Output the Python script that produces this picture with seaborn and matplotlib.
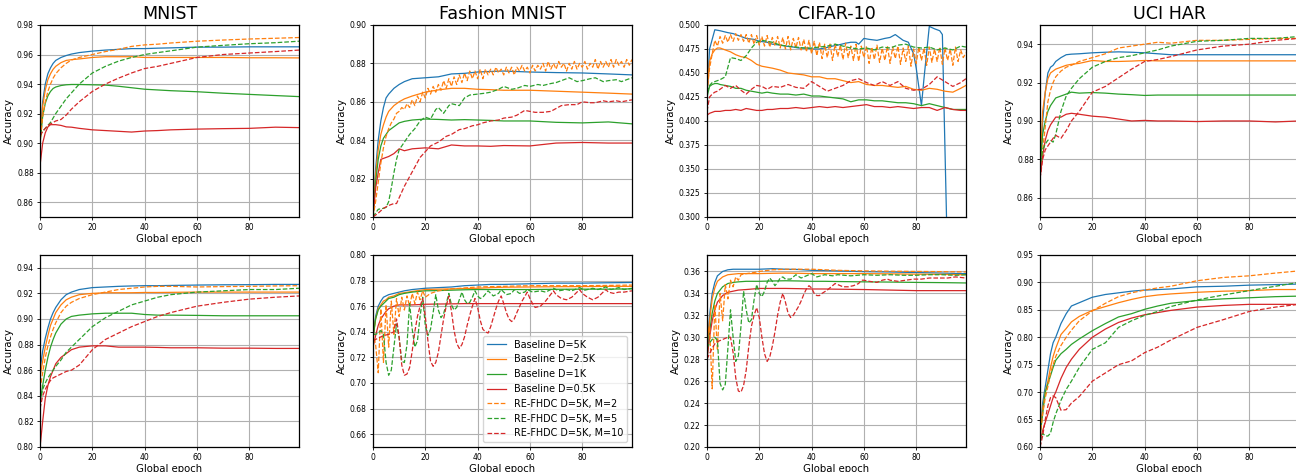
import matplotlib
matplotlib.use("Agg")
import matplotlib.pyplot as plt
import seaborn as sns
from matplotlib.ticker import MultipleLocator

# shared epoch grid for the smooth curves
ep = [0, 1, 2, 3, 4, 5, 6, 8, 10, 12, 15, 20, 25, 30, 35, 40, 45, 50, 60, 70, 80, 90, 99]

# ---------------- MNIST, top row ----------------
mn1_b5k = [0.905, 0.928, 0.940, 0.947, 0.951, 0.954, 0.956, 0.958, 0.9593, 0.9603, 0.9613, 0.9623,
           0.963, 0.9635, 0.964, 0.964, 0.9643, 0.9645, 0.965, 0.965, 0.9652, 0.9652, 0.9652]
mn1_b25k = [0.900, 0.925, 0.936, 0.943, 0.947, 0.950, 0.952, 0.9545, 0.956, 0.9565, 0.957, 0.958,
            0.9585, 0.9585, 0.9585, 0.958, 0.958, 0.958, 0.958, 0.958, 0.9578, 0.9578, 0.9577]
mn1_b1k = [0.900, 0.918, 0.927, 0.932, 0.935, 0.937, 0.938, 0.939, 0.9395, 0.9397, 0.9397, 0.9395,
           0.9393, 0.9385, 0.9375, 0.9365, 0.936, 0.9355, 0.9348, 0.9338, 0.933, 0.9322, 0.9315]
mn1_b05k = [0.885, 0.900, 0.907, 0.911, 0.9125, 0.9125, 0.9125, 0.912, 0.911, 0.9108, 0.910, 0.909,
            0.9085, 0.908, 0.9075, 0.9082, 0.9085, 0.909, 0.9095, 0.9098, 0.910, 0.9108, 0.9105]
mn1_m2 = [0.900, 0.918, 0.928, 0.935, 0.940, 0.944, 0.947, 0.951, 0.954, 0.9563, 0.958, 0.960,
          0.962, 0.9635, 0.9655, 0.9665, 0.967, 0.9678, 0.969, 0.9698, 0.9705, 0.971, 0.9715]
mn1_m5 = [0.905, 0.908, 0.910, 0.912, 0.914, 0.917, 0.920, 0.925, 0.930, 0.934, 0.940, 0.9475,
          0.952, 0.9555, 0.958, 0.960, 0.9613, 0.9625, 0.965, 0.9662, 0.9673, 0.968, 0.969]
mn1_m10 = [0.905, 0.908, 0.910, 0.912, 0.913, 0.914, 0.915, 0.916, 0.919, 0.923, 0.928, 0.935,
           0.940, 0.944, 0.9475, 0.9505, 0.952, 0.954, 0.958, 0.960, 0.961, 0.962, 0.963]

# ---------------- Fashion MNIST, top row ----------------
fm1_b5k = [0.800, 0.825, 0.840, 0.850, 0.857, 0.862, 0.864, 0.867, 0.869, 0.8705, 0.872, 0.8725,
           0.873, 0.8745, 0.8748, 0.8755, 0.8758, 0.876, 0.8755, 0.8752, 0.875, 0.8745, 0.874]
fm1_b25k = [0.800, 0.822, 0.835, 0.843, 0.848, 0.852, 0.855, 0.858, 0.860, 0.8615, 0.863, 0.865,
            0.8662, 0.867, 0.867, 0.8665, 0.8663, 0.866, 0.866, 0.8655, 0.865, 0.8645, 0.864]
fm1_b1k = [0.800, 0.818, 0.830, 0.837, 0.841, 0.843, 0.845, 0.847, 0.849, 0.8498, 0.8505, 0.851,
           0.8508, 0.8505, 0.8507, 0.8505, 0.8503, 0.850, 0.850, 0.8493, 0.849, 0.8495, 0.8485]
fm1_b05k = [0.800, 0.815, 0.823, 0.830, 0.8305, 0.831, 0.8315, 0.833, 0.8355, 0.8345, 0.8355, 0.836,
            0.8355, 0.8375, 0.837, 0.837, 0.8368, 0.8372, 0.837, 0.8385, 0.8388, 0.8385, 0.8385]
fm1_m2_ep = list(range(100))
fm1_m2 = [0.800, 0.808, 0.818, 0.828, 0.836, 0.842, 0.846, 0.849, 0.851, 0.854,
          0.855, 0.857, 0.856, 0.859, 0.857, 0.861, 0.858, 0.863, 0.860, 0.865,
          0.862, 0.867, 0.864, 0.868, 0.865, 0.869, 0.866, 0.871, 0.867, 0.872,
          0.868, 0.873, 0.869, 0.874, 0.870, 0.875, 0.871, 0.876, 0.872, 0.876,
          0.872, 0.877, 0.872, 0.877, 0.874, 0.877, 0.874, 0.878, 0.875, 0.877,
          0.874, 0.878, 0.875, 0.878, 0.874, 0.878, 0.876, 0.879, 0.876, 0.878,
          0.875, 0.879, 0.876, 0.879, 0.877, 0.880, 0.876, 0.881, 0.877, 0.880,
          0.877, 0.881, 0.878, 0.880, 0.876, 0.880, 0.877, 0.881, 0.877, 0.880,
          0.878, 0.881, 0.877, 0.880, 0.878, 0.882, 0.877, 0.881, 0.878, 0.881,
          0.878, 0.882, 0.878, 0.882, 0.879, 0.881, 0.878, 0.882, 0.879, 0.882]
fm1_m5_ep = [0, 2, 4, 5, 6, 7, 8, 9, 10,
             12, 14, 16, 18, 20,
             22, 24, 25, 27, 29, 30,
             33, 35, 37, 40, 43, 45, 48, 50, 53, 55, 58, 60, 63, 65, 68, 70,
             73, 75, 78, 80, 83, 85, 88, 90, 93, 95, 97, 99]
fm1_m5 = [0.800, 0.804, 0.8045, 0.805, 0.808, 0.815, 0.823, 0.830, 0.835,
          0.839, 0.843, 0.846, 0.850, 0.852,
          0.851, 0.856, 0.857, 0.854, 0.858, 0.859,
          0.858, 0.862, 0.8635, 0.864, 0.8645, 0.865, 0.8665, 0.868, 0.8665, 0.867, 0.8685, 0.868,
          0.869, 0.8685, 0.8695, 0.870,
          0.8715, 0.8725, 0.8705, 0.871, 0.872, 0.8725, 0.8705, 0.871, 0.8715, 0.8705, 0.8715, 0.8725]
fm1_m10_ep = [0, 2, 4, 6, 8, 9, 10, 12, 14, 16, 18, 20, 22, 25, 28, 30, 33, 35, 38, 40,
              42, 45, 48, 50, 53, 55, 58, 60, 62, 65, 68, 70, 72, 75, 78, 80, 83, 85, 88, 90,
              93, 95, 97, 99]
fm1_m10 = [0.800, 0.802, 0.8045, 0.806, 0.807, 0.807, 0.810, 0.816, 0.821, 0.826, 0.831, 0.834,
           0.837, 0.839, 0.842, 0.843, 0.8455, 0.846, 0.8475, 0.848,
           0.849, 0.850, 0.8505, 0.8515, 0.852, 0.853, 0.8555, 0.855, 0.8545, 0.8545, 0.855, 0.8565,
           0.858, 0.8585, 0.8585, 0.860, 0.8595, 0.8595, 0.8605, 0.860,
           0.8605, 0.860, 0.8605, 0.861]

# ---------------- CIFAR-10, top row ----------------
cf1_ep = [0, 1, 2, 3, 4, 5, 7, 9, 11, 13, 15, 17, 19, 21, 23, 25, 28, 31, 34, 37, 40,
          43, 46, 49, 52, 55, 58, 61, 64, 67, 70, 73, 76, 79, 82, 85, 88, 91, 94, 97, 99]
cf1_b5k_ep = [0, 1, 3, 5, 8, 10, 12, 15, 18, 20,
              23, 25, 28, 30, 33, 35, 38, 40,
              43, 45, 48, 50, 53, 55, 57, 58,
              60, 62, 65, 68, 70, 72, 74, 75,
              77, 79, 80, 82, 83, 85, 87, 89, 90, 92]
cf1_b5k = [0.425, 0.475, 0.495, 0.494, 0.492, 0.491, 0.489, 0.486, 0.485, 0.483,
           0.482, 0.480, 0.479, 0.478, 0.477, 0.476, 0.476, 0.475,
           0.475, 0.476, 0.478, 0.479, 0.481, 0.482, 0.482, 0.480,
           0.486, 0.485, 0.484, 0.486, 0.487, 0.490, 0.486, 0.484,
           0.482, 0.470, 0.455, 0.416, 0.445, 0.4985, 0.496, 0.494, 0.490, 0.250]
cf1_b25k = [0.430, 0.462, 0.470, 0.474, 0.476, 0.476, 0.474, 0.472, 0.469, 0.467, 0.466, 0.463,
            0.459, 0.457, 0.456, 0.455, 0.453, 0.450, 0.449, 0.448, 0.446, 0.446, 0.444, 0.444,
            0.442, 0.440, 0.441, 0.438, 0.437, 0.437, 0.436, 0.435, 0.436, 0.433, 0.432, 0.434,
            0.433, 0.431, 0.430, 0.434, 0.437]
cf1_b1k = [0.425, 0.436, 0.438, 0.439, 0.439, 0.438, 0.437, 0.436, 0.434, 0.434, 0.432, 0.431,
           0.430, 0.429, 0.430, 0.429, 0.428, 0.428, 0.427, 0.428, 0.426, 0.426, 0.425, 0.424,
           0.423, 0.420, 0.422, 0.422, 0.421, 0.421, 0.420, 0.419, 0.419, 0.418, 0.416, 0.418,
           0.416, 0.414, 0.412, 0.412, 0.412]
cf1_b05k = [0.406, 0.408, 0.409, 0.410, 0.410, 0.410, 0.411, 0.411, 0.412, 0.411, 0.413, 0.412,
            0.411, 0.411, 0.412, 0.412, 0.413, 0.413, 0.414, 0.413, 0.414, 0.415, 0.414, 0.415,
            0.414, 0.415, 0.416, 0.417, 0.415, 0.415, 0.414, 0.415, 0.414, 0.413, 0.414, 0.414,
            0.411, 0.414, 0.412, 0.411, 0.411]
cf1_m2_ep = list(range(100))
cf1_m2 = [0.430, 0.455, 0.470, 0.484, 0.478, 0.488, 0.481, 0.489, 0.482, 0.490,
          0.483, 0.491, 0.484, 0.490, 0.483, 0.490, 0.481, 0.490, 0.480, 0.489,
          0.479, 0.488, 0.478, 0.489, 0.477, 0.487, 0.478, 0.488, 0.476, 0.487,
          0.475, 0.488, 0.474, 0.486, 0.476, 0.487, 0.474, 0.485, 0.472, 0.484,
          0.470, 0.483, 0.468, 0.482, 0.465, 0.480, 0.466, 0.481, 0.463, 0.480,
          0.467, 0.479, 0.464, 0.481, 0.466, 0.478, 0.463, 0.480, 0.462, 0.478,
          0.466, 0.478, 0.460, 0.477, 0.464, 0.479, 0.461, 0.476, 0.463, 0.478,
          0.460, 0.477, 0.465, 0.478, 0.459, 0.476, 0.462, 0.478, 0.457, 0.475,
          0.460, 0.477, 0.463, 0.476, 0.458, 0.477, 0.461, 0.475, 0.462, 0.477,
          0.459, 0.476, 0.463, 0.475, 0.458, 0.477, 0.462, 0.474, 0.466, 0.471]
cf1_m5 = [0.430, 0.437, 0.440, 0.441, 0.442, 0.443, 0.446, 0.466, 0.465, 0.463, 0.468, 0.476,
          0.482, 0.484, 0.483, 0.482, 0.479, 0.478, 0.477, 0.476, 0.476, 0.477, 0.478, 0.480,
          0.478, 0.476, 0.475, 0.476, 0.474, 0.477, 0.476, 0.479, 0.480, 0.477, 0.476, 0.477,
          0.474, 0.476, 0.474, 0.478, 0.477]
cf1_m10 = [0.410, 0.425, 0.428, 0.430, 0.431, 0.433, 0.437, 0.434, 0.437, 0.432, 0.428, 0.433,
           0.437, 0.436, 0.433, 0.436, 0.435, 0.438, 0.435, 0.434, 0.441, 0.436, 0.431, 0.434,
           0.437, 0.442, 0.444, 0.440, 0.437, 0.441, 0.437, 0.441, 0.434, 0.432, 0.433, 0.438,
           0.446, 0.441, 0.436, 0.440, 0.444]

# ---------------- UCI HAR, top row ----------------
uc1_b5k = [0.870, 0.900, 0.915, 0.925, 0.928, 0.929, 0.931, 0.933, 0.9345, 0.9348, 0.935, 0.9355,
           0.9358, 0.936, 0.9358, 0.9355, 0.935, 0.9345, 0.9345, 0.9345, 0.9345, 0.9345, 0.9345]
uc1_b25k = [0.875, 0.905, 0.915, 0.922, 0.925, 0.926, 0.927, 0.928, 0.929, 0.9295, 0.930, 0.9315,
            0.931, 0.931, 0.9312, 0.9315, 0.9313, 0.9313, 0.9313, 0.9313, 0.9313, 0.9313, 0.9313]
uc1_b1k = [0.875, 0.893, 0.900, 0.905, 0.908, 0.910, 0.912, 0.913, 0.914, 0.915, 0.9145, 0.9148,
           0.9145, 0.914, 0.9137, 0.9133, 0.9135, 0.9135, 0.9135, 0.9135, 0.9135, 0.9135, 0.9135]
uc1_b05k = [0.870, 0.882, 0.890, 0.895, 0.898, 0.900, 0.902, 0.902, 0.9035, 0.904, 0.9035, 0.9025,
            0.902, 0.901, 0.900, 0.9003, 0.900, 0.900, 0.8997, 0.900, 0.900, 0.8995, 0.900]
uc1_m2 = [0.875, 0.885, 0.897, 0.910, 0.916, 0.920, 0.923, 0.926, 0.928, 0.929, 0.931, 0.933,
          0.935, 0.938, 0.939, 0.940, 0.941, 0.9405, 0.942, 0.942, 0.9425, 0.943, 0.943]
uc1_m5 = [0.875, 0.885, 0.888, 0.890, 0.890, 0.889, 0.893, 0.905, 0.913, 0.917, 0.922, 0.928,
          0.931, 0.933, 0.934, 0.9355, 0.937, 0.939, 0.9415, 0.942, 0.943, 0.943, 0.944]
uc1_m10 = [0.870, 0.880, 0.885, 0.887, 0.889, 0.891, 0.8925, 0.891, 0.895, 0.900, 0.905, 0.915,
           0.918, 0.9225, 0.927, 0.931, 0.932, 0.9335, 0.937, 0.939, 0.940, 0.942, 0.943]

# ---------------- MNIST, bottom row ----------------
mn2_b5k = [0.860, 0.875, 0.885, 0.893, 0.900, 0.905, 0.909, 0.915, 0.919, 0.921, 0.923, 0.9245,
           0.925, 0.9255, 0.9258, 0.926, 0.926, 0.9262, 0.9265, 0.9267, 0.9268, 0.927, 0.927]
mn2_b25k = [0.855, 0.867, 0.878, 0.887, 0.895, 0.900, 0.905, 0.911, 0.915, 0.917, 0.919, 0.920,
            0.9205, 0.9205, 0.9205, 0.9207, 0.9207, 0.9208, 0.921, 0.921, 0.921, 0.921, 0.921]
mn2_b1k = [0.835, 0.848, 0.860, 0.870, 0.878, 0.884, 0.889, 0.896, 0.900, 0.902, 0.903, 0.904,
           0.9045, 0.9045, 0.9045, 0.9035, 0.903, 0.903, 0.9028, 0.9025, 0.9025, 0.9025, 0.9025]
mn2_b05k = [0.800, 0.820, 0.838, 0.848, 0.855, 0.860, 0.865, 0.870, 0.873, 0.876, 0.878, 0.879,
            0.879, 0.878, 0.878, 0.878, 0.8778, 0.8775, 0.8775, 0.8772, 0.8772, 0.877, 0.877]
mn2_m2 = [0.845, 0.858, 0.870, 0.879, 0.886, 0.892, 0.897, 0.905, 0.910, 0.913, 0.916, 0.919,
          0.921, 0.923, 0.924, 0.925, 0.9255, 0.9255, 0.925, 0.9253, 0.9255, 0.9258, 0.926]
mn2_m5 = [0.835, 0.845, 0.850, 0.854, 0.857, 0.860, 0.863, 0.868, 0.874, 0.878, 0.884, 0.894,
          0.901, 0.906, 0.911, 0.914, 0.917, 0.919, 0.921, 0.922, 0.923, 0.923, 0.924]
mn2_m10 = [0.830, 0.840, 0.845, 0.849, 0.852, 0.854, 0.855, 0.857, 0.859, 0.860, 0.864, 0.876,
           0.884, 0.889, 0.894, 0.898, 0.902, 0.905, 0.910, 0.913, 0.9155, 0.917, 0.918]

# ---------------- Fashion MNIST, bottom row ----------------
fm2_b5k = [0.735, 0.752, 0.760, 0.764, 0.767, 0.768, 0.769, 0.770, 0.771, 0.772, 0.773, 0.774,
           0.7745, 0.775, 0.776, 0.7765, 0.777, 0.777, 0.7775, 0.778, 0.778, 0.7783, 0.7785]
fm2_b25k = [0.735, 0.750, 0.758, 0.761, 0.764, 0.765, 0.767, 0.768, 0.770, 0.7705, 0.7715, 0.773,
            0.7733, 0.7735, 0.7738, 0.774, 0.7745, 0.7748, 0.775, 0.7752, 0.7753, 0.7755, 0.7755]
fm2_b1k = [0.735, 0.750, 0.757, 0.760, 0.762, 0.764, 0.766, 0.767, 0.769, 0.770, 0.771, 0.772,
           0.7722, 0.7725, 0.7728, 0.773, 0.773, 0.773, 0.773, 0.7732, 0.7733, 0.7733, 0.7735]
fm2_b05k = [0.728, 0.737, 0.745, 0.750, 0.753, 0.756, 0.758, 0.760, 0.761, 0.761, 0.761, 0.7615,
            0.7617, 0.7618, 0.762, 0.762, 0.762, 0.762, 0.762, 0.762, 0.762, 0.762, 0.762]
fm2_m2_ep = [0, 1, 2, 3, 4, 5, 6, 7, 8, 9,
             10, 11, 12, 13, 14, 15, 16, 17, 18, 19,
             20, 22, 25, 30, 40, 50, 60, 70, 80, 90, 99]
fm2_m2 = [0.740, 0.730, 0.708, 0.758, 0.716, 0.761, 0.728, 0.764, 0.738, 0.766,
          0.752, 0.767, 0.757, 0.768, 0.760, 0.770, 0.762, 0.771, 0.765, 0.772,
          0.767, 0.770, 0.772, 0.7735, 0.775, 0.7755, 0.776, 0.776, 0.776, 0.7762, 0.7765]
fm2_m5_ep = [0, 1, 2, 3, 4, 5, 6, 7, 8, 9,
             10, 11, 12, 13, 14, 15, 16, 17, 18, 19,
             20, 21, 22, 23, 24, 25, 26, 27, 28, 29,
             30, 31, 32, 33, 34, 35, 36, 37, 38, 39,
             40, 41, 42, 44, 46, 48, 49, 51, 53, 54,
             56, 58, 59, 61, 64, 66, 69, 71, 74, 76,
             79, 81, 84, 86, 89, 91, 94, 96, 99]
fm2_m5 = [0.738, 0.738, 0.739, 0.741, 0.738, 0.716, 0.706, 0.710, 0.728, 0.746,
          0.735, 0.717, 0.716, 0.730, 0.762, 0.742, 0.728, 0.733, 0.752, 0.767,
          0.745, 0.737, 0.742, 0.755, 0.769, 0.757, 0.751, 0.754, 0.762, 0.770,
          0.761, 0.757, 0.759, 0.765, 0.771, 0.765, 0.762, 0.763, 0.767, 0.772,
          0.768, 0.766, 0.767, 0.772, 0.768, 0.770, 0.773, 0.769, 0.770, 0.773,
          0.770, 0.771, 0.773, 0.771, 0.772, 0.771, 0.774, 0.772, 0.773, 0.772,
          0.7745, 0.7725, 0.774, 0.773, 0.775, 0.773, 0.7745, 0.773, 0.774]
fm2_m10_ep = [0, 2, 4, 6, 8, 9, 10, 11, 12, 13,
              14, 15, 16, 17, 18, 19, 20, 21, 22, 23,
              24, 25, 26, 27, 28, 29, 30, 31, 32, 33,
              34, 35, 36, 37, 38, 39, 40, 41, 42, 43,
              44, 45, 46, 47, 48, 49, 50, 51, 52, 53,
              54, 55, 57, 59, 60, 61, 62, 64, 66, 69,
              70, 72, 74, 76, 79, 80, 82, 84, 86, 89,
              90, 92, 94, 96, 99]
fm2_m10 = [0.733, 0.735, 0.737, 0.738, 0.740, 0.750, 0.736, 0.714, 0.706, 0.707,
           0.712, 0.725, 0.740, 0.752, 0.760, 0.766, 0.752, 0.733, 0.717, 0.713,
           0.716, 0.724, 0.737, 0.750, 0.760, 0.768, 0.756, 0.741, 0.731, 0.727,
           0.730, 0.736, 0.745, 0.753, 0.760, 0.766, 0.759, 0.749, 0.742, 0.740,
           0.739, 0.744, 0.751, 0.758, 0.764, 0.768, 0.762, 0.755, 0.750, 0.748,
           0.750, 0.755, 0.764, 0.771, 0.766, 0.762, 0.759, 0.760, 0.764, 0.772,
           0.769, 0.766, 0.765, 0.767, 0.773, 0.770, 0.767, 0.765, 0.767, 0.773,
           0.771, 0.770, 0.771, 0.771, 0.772]

# ---------------- CIFAR-10, bottom row ----------------
cf2_b5k = [0.290, 0.320, 0.340, 0.350, 0.356, 0.358, 0.360, 0.3615, 0.362, 0.362, 0.362, 0.362,
           0.3625, 0.362, 0.3618, 0.361, 0.3608, 0.3605, 0.3598, 0.3595, 0.359, 0.3585, 0.358]
cf2_b25k = [0.290, 0.315, 0.335, 0.345, 0.351, 0.353, 0.355, 0.357, 0.3575, 0.358, 0.358, 0.358,
            0.3583, 0.3585, 0.3583, 0.358, 0.358, 0.358, 0.358, 0.3578, 0.3575, 0.3573, 0.357]
cf2_b1k = [0.280, 0.305, 0.322, 0.333, 0.340, 0.343, 0.346, 0.349, 0.350, 0.3505, 0.351, 0.351,
           0.3513, 0.3515, 0.3513, 0.351, 0.351, 0.3508, 0.3505, 0.3503, 0.350, 0.3498, 0.3495]
cf2_b05k = [0.280, 0.300, 0.315, 0.325, 0.332, 0.335, 0.338, 0.341, 0.342, 0.343, 0.3435, 0.3445,
            0.3445, 0.3445, 0.3443, 0.344, 0.344, 0.3438, 0.3435, 0.343, 0.3425, 0.3425, 0.3425]
cf2_m2_ep = [0, 1, 2, 3, 4, 5, 6, 7, 8, 9, 10, 11, 12, 13,
             15, 18, 20, 25, 30, 40, 50, 60, 70, 80, 90, 99]
cf2_m2 = [0.300, 0.310, 0.253, 0.330, 0.288, 0.340, 0.315, 0.348, 0.335, 0.352, 0.346, 0.355, 0.352, 0.357,
          0.358, 0.359, 0.360, 0.3615, 0.362, 0.362, 0.361, 0.3605, 0.3602, 0.360, 0.3598, 0.3595]
cf2_m5_ep = [0, 1, 2, 3, 4, 5, 6, 7, 8, 9,
             10, 11, 12, 13, 14, 15, 16, 17, 18, 19,
             20, 21, 22, 23, 24, 25, 26, 27, 28, 29,
             30, 32, 34, 36, 38, 40, 42, 45, 48, 50,
             55, 60, 65, 70, 75, 80, 85, 90, 95, 99]
cf2_m5 = [0.290, 0.295, 0.298, 0.300, 0.297, 0.258, 0.252, 0.257, 0.290, 0.325,
          0.300, 0.278, 0.283, 0.310, 0.342, 0.325, 0.313, 0.316, 0.334, 0.348,
          0.340, 0.337, 0.342, 0.350, 0.354, 0.351, 0.347, 0.350, 0.354, 0.355,
          0.353, 0.353, 0.357, 0.354, 0.356, 0.358, 0.355, 0.357, 0.356, 0.357,
          0.356, 0.357, 0.3565, 0.357, 0.3565, 0.3565, 0.357, 0.357, 0.3565, 0.357]
cf2_m10_ep = [0, 1, 2, 3, 4, 6, 8, 9, 10, 11,
              12, 13, 14, 15, 16, 17, 18, 19, 20, 21,
              22, 23, 24, 25, 26, 27, 28, 29, 30, 31,
              32, 33, 34, 35, 36, 37, 38, 39, 40, 41,
              42, 43, 44, 46, 48, 49, 50, 52, 54, 56,
              58, 59, 60, 62, 65, 67, 69, 70, 73, 76,
              79, 82, 85, 89, 92, 95, 99]
cf2_m10 = [0.280, 0.285, 0.290, 0.294, 0.296, 0.298, 0.300, 0.300, 0.286, 0.263,
           0.251, 0.250, 0.256, 0.270, 0.292, 0.310, 0.320, 0.327, 0.318, 0.300,
           0.285, 0.278, 0.282, 0.292, 0.305, 0.320, 0.332, 0.340, 0.332, 0.322,
           0.318, 0.320, 0.324, 0.328, 0.333, 0.339, 0.344, 0.347, 0.345, 0.340,
           0.338, 0.338, 0.340, 0.343, 0.347, 0.349, 0.348, 0.346, 0.346, 0.347,
           0.349, 0.352, 0.352, 0.351, 0.350, 0.352, 0.353, 0.352, 0.351, 0.352,
           0.353, 0.353, 0.354, 0.354, 0.354, 0.355, 0.354]

# ---------------- UCI HAR, bottom row ----------------
uc2_b5k = [0.620, 0.680, 0.710, 0.740, 0.770, 0.790, 0.800, 0.825, 0.843, 0.857, 0.863, 0.873,
           0.878, 0.881, 0.884, 0.886, 0.887, 0.888, 0.892, 0.893, 0.895, 0.896, 0.897]
uc2_b25k = [0.620, 0.670, 0.700, 0.720, 0.745, 0.765, 0.780, 0.805, 0.816, 0.828, 0.838, 0.849,
            0.856, 0.863, 0.869, 0.874, 0.877, 0.879, 0.882, 0.884, 0.885, 0.887, 0.887]
uc2_b1k = [0.620, 0.660, 0.700, 0.715, 0.730, 0.745, 0.758, 0.770, 0.778, 0.787, 0.797, 0.812,
           0.825, 0.837, 0.843, 0.851, 0.857, 0.862, 0.867, 0.870, 0.872, 0.874, 0.875]
uc2_b05k = [0.610, 0.630, 0.645, 0.660, 0.675, 0.690, 0.700, 0.725, 0.745, 0.760, 0.778, 0.800,
            0.815, 0.827, 0.835, 0.841, 0.845, 0.849, 0.855, 0.858, 0.860, 0.860, 0.860]
uc2_m2 = [0.620, 0.660, 0.690, 0.710, 0.735, 0.750, 0.765, 0.785, 0.800, 0.813, 0.830, 0.848,
          0.862, 0.874, 0.881, 0.886, 0.890, 0.893, 0.903, 0.909, 0.912, 0.917, 0.921]
uc2_m5 = [0.610, 0.625, 0.620, 0.620, 0.625, 0.645, 0.660, 0.685, 0.705, 0.720, 0.745, 0.778,
          0.790, 0.818, 0.830, 0.840, 0.847, 0.856, 0.868, 0.877, 0.885, 0.893, 0.900]
uc2_m10 = [0.600, 0.620, 0.650, 0.675, 0.690, 0.693, 0.690, 0.667, 0.668, 0.680, 0.692, 0.720,
           0.735, 0.750, 0.757, 0.772, 0.782, 0.795, 0.818, 0.832, 0.847, 0.855, 0.860]

titles = ["MNIST", "Fashion MNIST", "CIFAR-10", "UCI HAR"]
labels = ["Baseline D=5K", "Baseline D=2.5K", "Baseline D=1K", "Baseline D=0.5K",
          "RE-FHDC D=5K, M=2", "RE-FHDC D=5K, M=5", "RE-FHDC D=5K, M=10"]

pal = sns.color_palette("tab10")
colors = [pal[0], pal[1], pal[2], pal[3], pal[1], pal[2], pal[3]]
styles = ["-", "-", "-", "-", "--", "--", "--"]

# (row, col, ylim, ytick step, series as (epochs, values))
panels = [
    (0, 0, (0.85, 0.98), 0.02, [(ep, mn1_b5k), (ep, mn1_b25k), (ep, mn1_b1k), (ep, mn1_b05k),
                                (ep, mn1_m2), (ep, mn1_m5), (ep, mn1_m10)]),
    (0, 1, (0.80, 0.90), 0.02, [(ep, fm1_b5k), (ep, fm1_b25k), (ep, fm1_b1k), (ep, fm1_b05k),
                                (fm1_m2_ep, fm1_m2), (fm1_m5_ep, fm1_m5), (fm1_m10_ep, fm1_m10)]),
    (0, 2, (0.30, 0.50), 0.025, [(cf1_b5k_ep, cf1_b5k), (cf1_ep, cf1_b25k), (cf1_ep, cf1_b1k),
                                 (cf1_ep, cf1_b05k), (cf1_m2_ep, cf1_m2), (cf1_ep, cf1_m5),
                                 (cf1_ep, cf1_m10)]),
    (0, 3, (0.85, 0.95), 0.02, [(ep, uc1_b5k), (ep, uc1_b25k), (ep, uc1_b1k), (ep, uc1_b05k),
                                (ep, uc1_m2), (ep, uc1_m5), (ep, uc1_m10)]),
    (1, 0, (0.80, 0.95), 0.02, [(ep, mn2_b5k), (ep, mn2_b25k), (ep, mn2_b1k), (ep, mn2_b05k),
                                (ep, mn2_m2), (ep, mn2_m5), (ep, mn2_m10)]),
    (1, 1, (0.65, 0.80), 0.02, [(ep, fm2_b5k), (ep, fm2_b25k), (ep, fm2_b1k), (ep, fm2_b05k),
                                (fm2_m2_ep, fm2_m2), (fm2_m5_ep, fm2_m5), (fm2_m10_ep, fm2_m10)]),
    (1, 2, (0.20, 0.375), 0.02, [(ep, cf2_b5k), (ep, cf2_b25k), (ep, cf2_b1k), (ep, cf2_b05k),
                                 (cf2_m2_ep, cf2_m2), (cf2_m5_ep, cf2_m5), (cf2_m10_ep, cf2_m10)]),
    (1, 3, (0.60, 0.95), 0.05, [(ep, uc2_b5k), (ep, uc2_b25k), (ep, uc2_b1k), (ep, uc2_b05k),
                                (ep, uc2_m2), (ep, uc2_m5), (ep, uc2_m10)]),
]

fig = plt.figure(figsize=(12.96, 4.72), dpi=100)
lefts = [0.0309, 0.2878, 0.5455, 0.8025]
bottoms = [0.5403, 0.053]
w, h = 0.1998, 0.4068

for row, col, ylim, ystep, series in panels:
    ax = fig.add_axes([lefts[col], bottoms[row], w, h])
    for (xs, ys), lab, c, ls in zip(series, labels, colors, styles):
        sns.lineplot(x=xs, y=ys, ax=ax, color=c, linestyle=ls, lw=0.9,
                     label=lab, legend=False, estimator=None)
    ax.set_xlim(0, 99)
    ax.set_ylim(*ylim)
    ax.xaxis.set_major_locator(MultipleLocator(20))
    ax.yaxis.set_major_locator(MultipleLocator(ystep))
    ax.grid(True, color="#b0b0b0", lw=0.8)
    ax.tick_params(labelsize=5.5, length=2.5, width=0.6, pad=2)
    for s in ax.spines.values():
        s.set_linewidth(0.9)
    ax.set_xlabel("Global epoch", fontsize=7.3, labelpad=1)
    ax.set_ylabel("Accuracy", fontsize=7.3, labelpad=2)
    if row == 0:
        ax.set_title(titles[col], fontsize=12.6, pad=4)
    if row == 1 and col == 1:
        ax.legend(loc="lower right", fontsize=6.9)

fig.savefig("out.png", dpi=100)
